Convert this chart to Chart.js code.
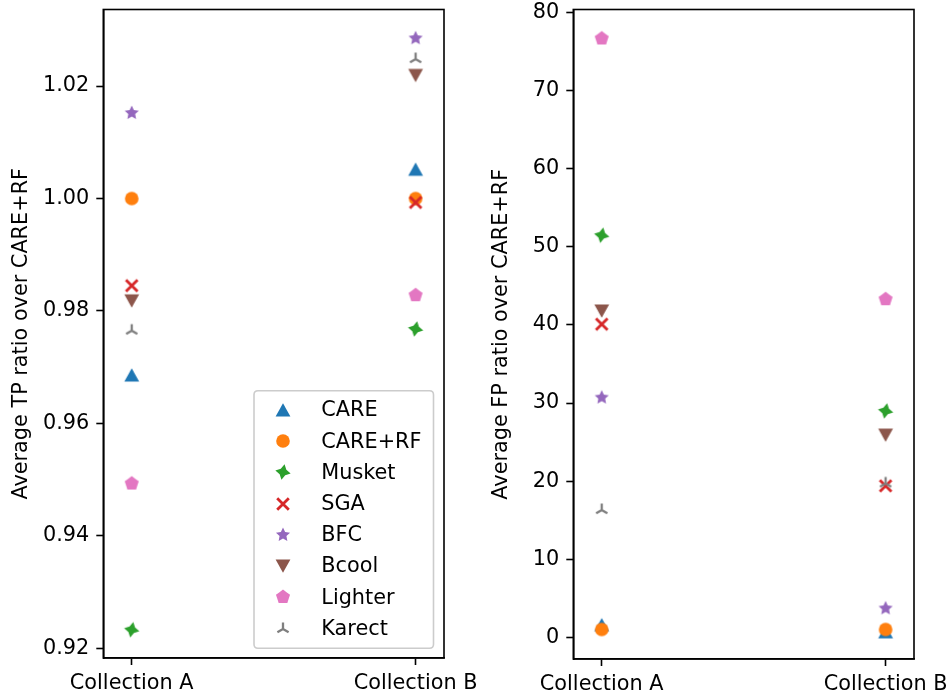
<!DOCTYPE html>
<html>
<head>
<meta charset="utf-8">
<script src="https://cdn.jsdelivr.net/npm/chart.js@4.4.1/dist/chart.umd.min.js"></script>
<style>
html,body{margin:0;padding:0;background:#fff;overflow:hidden;width:952px;height:697px;}
#wrapL{position:absolute;left:0;top:0;width:520px;height:697px;}
#wrapR{position:absolute;left:476px;top:0;width:520px;height:697px;}
</style>
</head>
<body>
<div id="wrapL"><canvas id="tp" width="520" height="697"></canvas></div>
<div id="wrapR"><canvas id="fp" width="520" height="697"></canvas></div>
<script>
// ---------- data ----------
const categories = ['Collection A', 'Collection B'];
const categoryX = [0, 1];
const methods = ['CARE', 'CARE+RF', 'Musket', 'SGA', 'BFC', 'Bcool', 'Lighter', 'Karect'];

// Average TP ratio over CARE+RF
const tpCARE    = [0.9686, 1.0052];
const tpCARERF  = [1.0000, 1.0000];
const tpMusket  = [0.9233, 0.9768];
const tpSGA     = [0.9845, 0.9993];
const tpBFC     = [1.0152, 1.0285];
const tpBcool   = [0.9818, 1.0219];
const tpLighter = [0.9493, 0.9828];
const tpKarect  = [0.9765, 1.0248];

// Average FP ratio over CARE+RF
const fpCARE    = [1.6, 0.7];
const fpCARERF  = [1.0, 1.0];
const fpMusket  = [51.5, 29.0];
const fpSGA     = [40.1, 19.4];
const fpBFC     = [30.7, 3.7];
const fpBcool   = [41.8, 25.9];
const fpLighter = [76.7, 43.3];
const fpKarect  = [16.3, 19.7];

const tpTicks = [0.92, 0.94, 0.96, 0.98, 1.00, 1.02];
const fpTicks = [0, 10, 20, 30, 40, 50, 60, 70, 80];

const tpSeries = [tpCARE, tpCARERF, tpMusket, tpSGA, tpBFC, tpBcool, tpLighter, tpKarect];
const fpSeries = [fpCARE, fpCARERF, fpMusket, fpSGA, fpBFC, fpBcool, fpLighter, fpKarect];

// ---------- styles ----------
const colors = ['#1f77b4', '#ff7f0e', '#2ca02c', '#d62728', '#9467bd', '#8c564b', '#e377c2', '#7f7f7f'];
const kinds = ['triUp', 'circle', 'star4', 'x', 'star5', 'triDown', 'pentagon', 'tri'];
const FONT = "'DejaVu Sans', sans-serif";
const FS = 20.8;
const LW = 1.6;

function starPath(g, n, rOut, rIn, rot) {
  g.beginPath();
  for (let i = 0; i < 2 * n; i++) {
    const r = i % 2 === 0 ? rOut : rIn;
    const a = -Math.PI / 2 + rot + i * Math.PI / n;
    const px = r * Math.cos(a), py = r * Math.sin(a);
    if (i === 0) g.moveTo(px, py); else g.lineTo(px, py);
  }
  g.closePath();
}

function makeMarker(kind, color) {
  const S = 24;
  const c = document.createElement('canvas');
  c.width = S; c.height = S;
  const g = c.getContext('2d');
  g.translate(S / 2, S / 2);
  g.fillStyle = color; g.strokeStyle = color;
  g.lineJoin = 'miter';
  switch (kind) {
    case 'triUp':
      g.beginPath(); g.moveTo(0, -6.8); g.lineTo(-7.4, 6.6); g.lineTo(7.4, 6.6); g.closePath(); g.fill();
      break;
    case 'triDown':
      g.beginPath(); g.moveTo(0, 6.8); g.lineTo(-7.4, -6.6); g.lineTo(7.4, -6.6); g.closePath(); g.fill();
      break;
    case 'circle':
      g.beginPath(); g.arc(0, 0, 6.8, 0, Math.PI * 2); g.fill();
      break;
    case 'star4':
      starPath(g, 4, 7.8, 4.0, 0.2); g.fill();
      break;
    case 'star5':
      starPath(g, 5, 7.4, 3.6, 0); g.fill();
      break;
    case 'pentagon':
      starPath(g, 5, 7.4, 7.4 * Math.cos(Math.PI / 5), 0); g.fill();
      break;
    case 'x':
      g.lineWidth = 2.8; g.lineCap = 'butt';
      g.beginPath(); g.moveTo(-5.8, -5.8); g.lineTo(5.8, 5.8); g.moveTo(5.8, -5.8); g.lineTo(-5.8, 5.8); g.stroke();
      break;
    case 'tri':
      g.lineWidth = 2.3; g.lineCap = 'butt';
      g.beginPath();
      g.moveTo(0, 0); g.lineTo(0, -6.5);
      g.moveTo(0, 0); g.lineTo(-5.6, 3.25);
      g.moveTo(0, 0); g.lineTo(5.6, 3.25);
      g.stroke();
      break;
  }
  return c;
}
const markers = kinds.map((k, i) => makeMarker(k, colors[i]));

function buildDatasets(series) {
  return series.map((arr, i) => ({
    label: methods[i],
    data: categoryX.map((x, j) => ({ x: x, y: arr[j] })),
    pointStyle: markers[i],
    pointRadius: 7,
    pointHoverRadius: 7,
    backgroundColor: colors[i],
    borderColor: colors[i],
    order: series.length - i
  }));
}

// frame (all four spines)
const framePlugin = {
  id: 'frame',
  afterDatasetsDraw(chart) {
    const { ctx, chartArea: a } = chart;
    ctx.save();
    ctx.strokeStyle = '#000';
    ctx.lineWidth = LW;
    ctx.strokeRect(a.left, a.top, a.right - a.left, a.bottom - a.top);
    ctx.restore();
  }
};

// legend box inside the left axes
const boxLegendPlugin = {
  id: 'boxLegend',
  afterDraw(chart, args, opts) {
    if (!opts || !opts.show) return;
    const { ctx, chartArea: a } = chart;
    const w = 179.5, h = 257.5;
    const x0 = a.right - 10.5 - w, y0 = a.bottom - 9.7 - h;
    const r = 4;
    ctx.save();
    ctx.beginPath();
    ctx.moveTo(x0 + r, y0);
    ctx.lineTo(x0 + w - r, y0); ctx.quadraticCurveTo(x0 + w, y0, x0 + w, y0 + r);
    ctx.lineTo(x0 + w, y0 + h - r); ctx.quadraticCurveTo(x0 + w, y0 + h, x0 + w - r, y0 + h);
    ctx.lineTo(x0 + r, y0 + h); ctx.quadraticCurveTo(x0, y0 + h, x0, y0 + h - r);
    ctx.lineTo(x0, y0 + r); ctx.quadraticCurveTo(x0, y0, x0 + r, y0);
    ctx.closePath();
    ctx.fillStyle = 'rgba(255,255,255,0.8)';
    ctx.fill();
    ctx.strokeStyle = '#cccccc';
    ctx.lineWidth = LW;
    ctx.stroke();
    ctx.font = FS + 'px ' + FONT;
    ctx.fillStyle = '#000';
    ctx.textBaseline = 'middle';
    ctx.textAlign = 'left';
    methods.forEach((m, i) => {
      const y = y0 + 19.3 + i * 31.2;
      const mk = markers[i];
      ctx.drawImage(mk, Math.round(x0 + 29.3 - mk.width / 2), Math.round(y - mk.height / 2));
      ctx.fillText(m, x0 + 67.3, y + 1);
    });
    ctx.restore();
  }
};

function makeChart(id, series, yMin, yMax, yTicks, yFmt, yTitle, yWidth, titlePad, padRight, xHeight, showLegend) {
  return new Chart(document.getElementById(id), {
    type: 'scatter',
    data: { datasets: buildDatasets(series) },
    plugins: [framePlugin, boxLegendPlugin],
    options: {
      responsive: false,
      animation: false,
      devicePixelRatio: 1,
      layout: { padding: { left: 0, right: padRight, top: 9.5, bottom: 0 } },
      plugins: {
        legend: { display: false },
        tooltip: { enabled: false },
        boxLegend: { show: showLegend }
      },
      scales: {
        x: {
          type: 'linear',
          min: -0.1, max: 1.1,
          afterBuildTicks: s => { s.ticks = categoryX.map(v => ({ value: v })); },
          afterFit: s => { s.height = xHeight; s.paddingLeft = 0; s.paddingRight = 0; },
          ticks: {
            callback: (v, i) => categories[i],
            color: '#000',
            font: { family: FONT, size: FS },
            padding: 6,
            maxRotation: 0,
            autoSkip: false
          },
          grid: { display: true, drawOnChartArea: false, drawTicks: true, tickLength: 7, tickWidth: LW, tickColor: '#000' },
          border: { display: true, color: '#000', width: LW }
        },
        y: {
          type: 'linear',
          min: yMin, max: yMax,
          afterBuildTicks: s => { s.ticks = yTicks.map(v => ({ value: v })); },
          afterFit: s => { s.width = yWidth; s.paddingTop = 0; s.paddingBottom = 0; },
          ticks: {
            callback: v => yFmt(v),
            color: '#000',
            font: { family: FONT, size: FS },
            padding: 7,
            autoSkip: false
          },
          grid: { display: true, drawOnChartArea: false, drawTicks: true, tickLength: 7, tickWidth: LW, tickColor: '#000' },
          border: { display: true, color: '#000', width: LW },
          title: {
            display: true,
            text: yTitle,
            color: '#000',
            font: { family: FONT, size: FS },
            padding: { top: titlePad, bottom: 0 }
          }
        }
      }
    }
  });
}

makeChart('tp', tpSeries, 0.91827, 1.03362, tpTicks, v => v.toFixed(2),
  'Average TP ratio over CARE+RF', 103.3, 9.3, 520 - 444, 39, true);
makeChart('fp', fpSeries, -2.78, 80.41, fpTicks, v => String(v),
  'Average FP ratio over CARE+RF', 97.3, 13.3, 520 - 438, 38, false);
</script>
</body>
</html>
